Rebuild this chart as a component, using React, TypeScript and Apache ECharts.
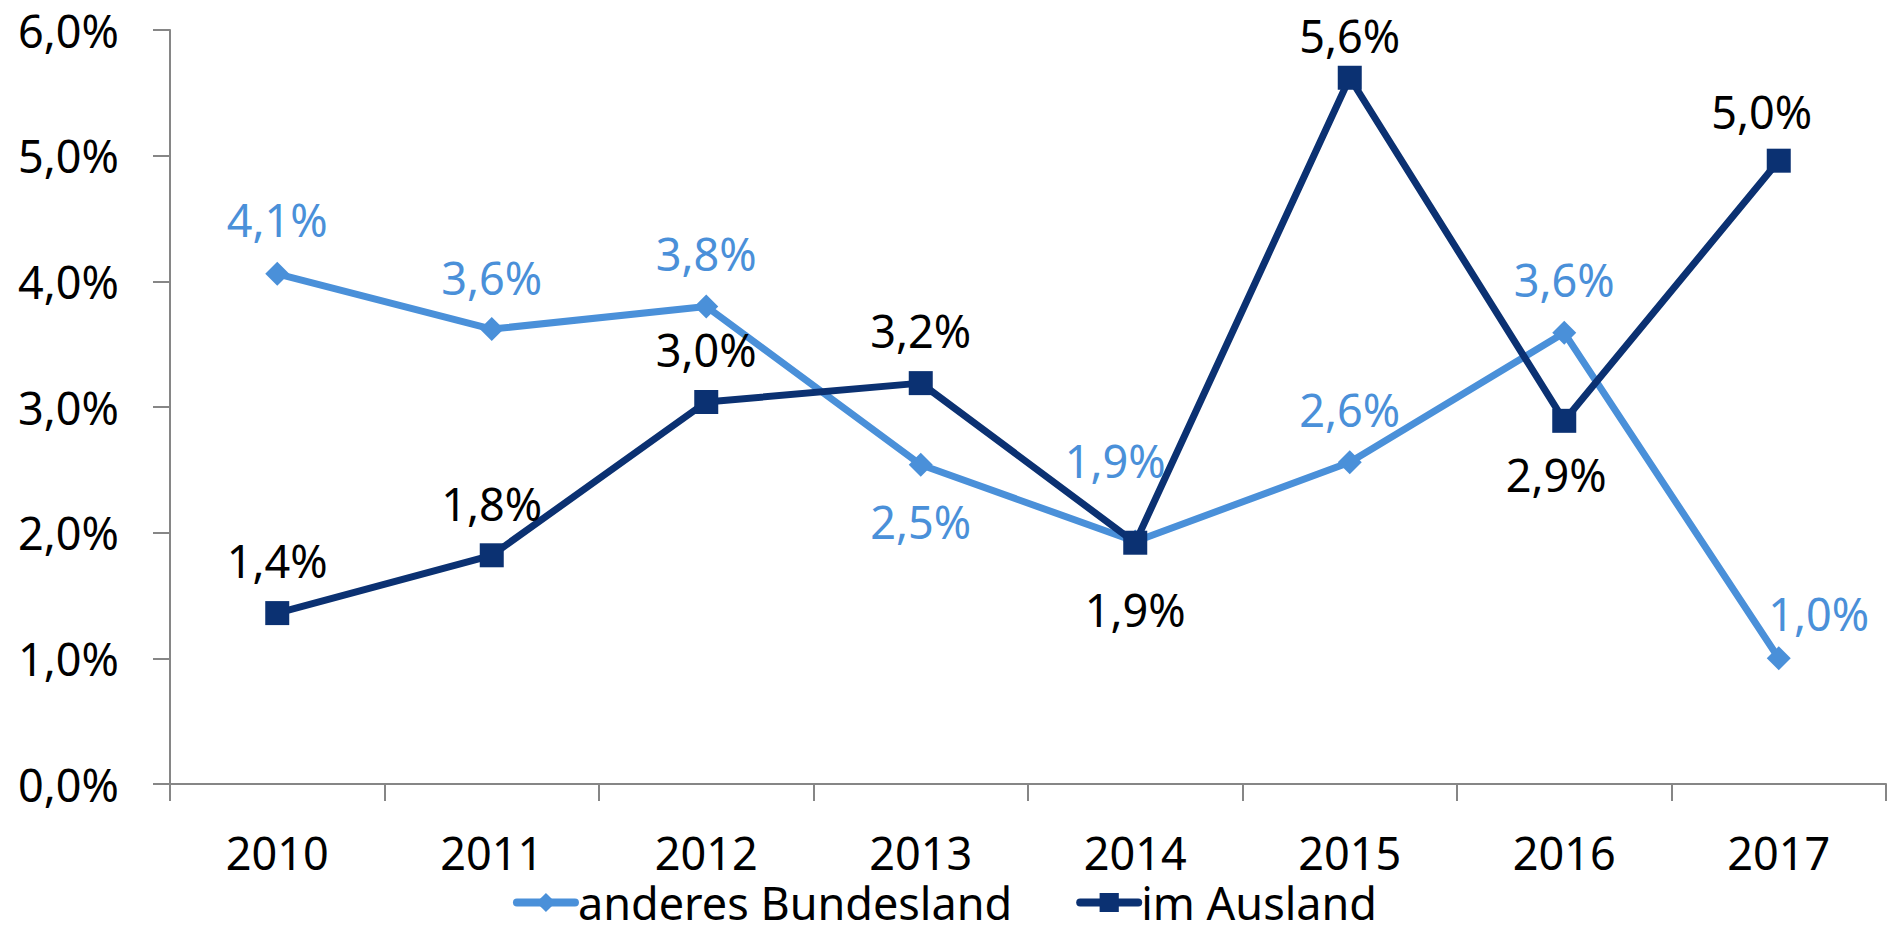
import React, { useEffect, useRef } from "react";
import * as echarts from "echarts";

const years = ["2010", "2011", "2012", "2013", "2014", "2015", "2016", "2017"];
const anderesBundesland = [4.06, 3.62, 3.8, 2.54, 1.93, 2.56, 3.59, 1.0];
const imAusland = [1.36, 1.82, 3.04, 3.19, 1.92, 5.62, 2.89, 4.96];
const yTicks = [0, 1, 2, 3, 4, 5, 6];

// label placement offsets (dx, dy) relative to each point
const lightLabelOffsets = [
  [0, -54], [0, -52], [0, -53], [0, 57], [-20, -81], [0, -53], [0, -53], [40, -45],
];
const darkLabelOffsets = [
  [0, -53], [0, -52], [0, -52], [0, -53], [0, 67], [0, -42], [-8, 54], [-17, -49],
];

const LIGHT = "#4A90D9";
const DARK = "#0B3172";
const FONT = "Noto Sans";
const fmt = (v: number) => v.toFixed(1).replace(".", ",") + "%";

export default function App() {
  const ref = useRef<HTMLDivElement>(null);
  useEffect(() => {
    if (!ref.current) return;
    const chart = echarts.init(ref.current, undefined, { renderer: "svg" });
    const mk = (vals: number[], offs: number[][]) =>
      vals.map((v, i) => ({
        value: v,
        label: { offset: offs[i] },
      }));
    chart.setOption({
      animation: false,
      textStyle: { fontFamily: FONT },
      grid: { left: 170, right: 4, top: 30, bottom: 145, containLabel: false },
      xAxis: {
        type: "category",
        data: years,
        boundaryGap: true,
        axisLine: { lineStyle: { color: "#868686", width: 2 } },
        axisTick: { show: true, length: 17, lineStyle: { color: "#868686", width: 2 } },
        axisLabel: { color: "#000", fontSize: 45, lineHeight: 44, fontFamily: FONT, margin: 46 },
        splitLine: { show: false },
      },
      yAxis: {
        type: "value",
        min: yTicks[0],
        max: yTicks[yTicks.length - 1],
        interval: 1,
        axisLine: { show: true, lineStyle: { color: "#868686", width: 2 } },
        axisTick: { show: true, length: 17, lineStyle: { color: "#868686", width: 2 } },
        axisLabel: {
          color: "#000",
          fontSize: 45,
          fontFamily: FONT,
          margin: 51,
          formatter: (v: number) => fmt(v),
        },
        splitLine: { show: false },
      },
      legend: {
        left: "center",
        top: 880,
        padding: 0,
        itemWidth: 58,
        itemHeight: 24,
        itemGap: 64,
        lineStyle: { width: 8, cap: "round" },
        textStyle: {
          fontSize: 45,
          lineHeight: 42,
          fontFamily: FONT,
          color: "#000",
          padding: [0, 0, 0, -2],
        },
        data: ["anderes Bundesland", "im Ausland"],
      },
      series: [
        {
          name: "anderes Bundesland",
          type: "line",
          data: mk(anderesBundesland, lightLabelOffsets),
          symbol: "diamond",
          symbolSize: 24,
          lineStyle: { color: LIGHT, width: 7 },
          itemStyle: { color: LIGHT },
          label: {
            show: true,
            position: "inside",
            color: LIGHT,
            fontSize: 45,
            fontFamily: FONT,
            formatter: (p: any) => fmt(p.value),
          },
          z: 2,
        },
        {
          name: "im Ausland",
          type: "line",
          data: mk(imAusland, darkLabelOffsets),
          symbol: "rect",
          symbolSize: 24,
          lineStyle: { color: DARK, width: 7 },
          itemStyle: { color: DARK },
          label: {
            show: true,
            position: "inside",
            color: "#000",
            fontSize: 45,
            fontFamily: FONT,
            formatter: (p: any) => fmt(p.value),
          },
          z: 3,
        },
      ],
    });
    return () => chart.dispose();
  }, []);
  return (
    <div
      ref={ref}
      style={{ position: "fixed", left: 0, top: 0, width: 1890, height: 929, background: "#fff" }}
    />
  );
}
